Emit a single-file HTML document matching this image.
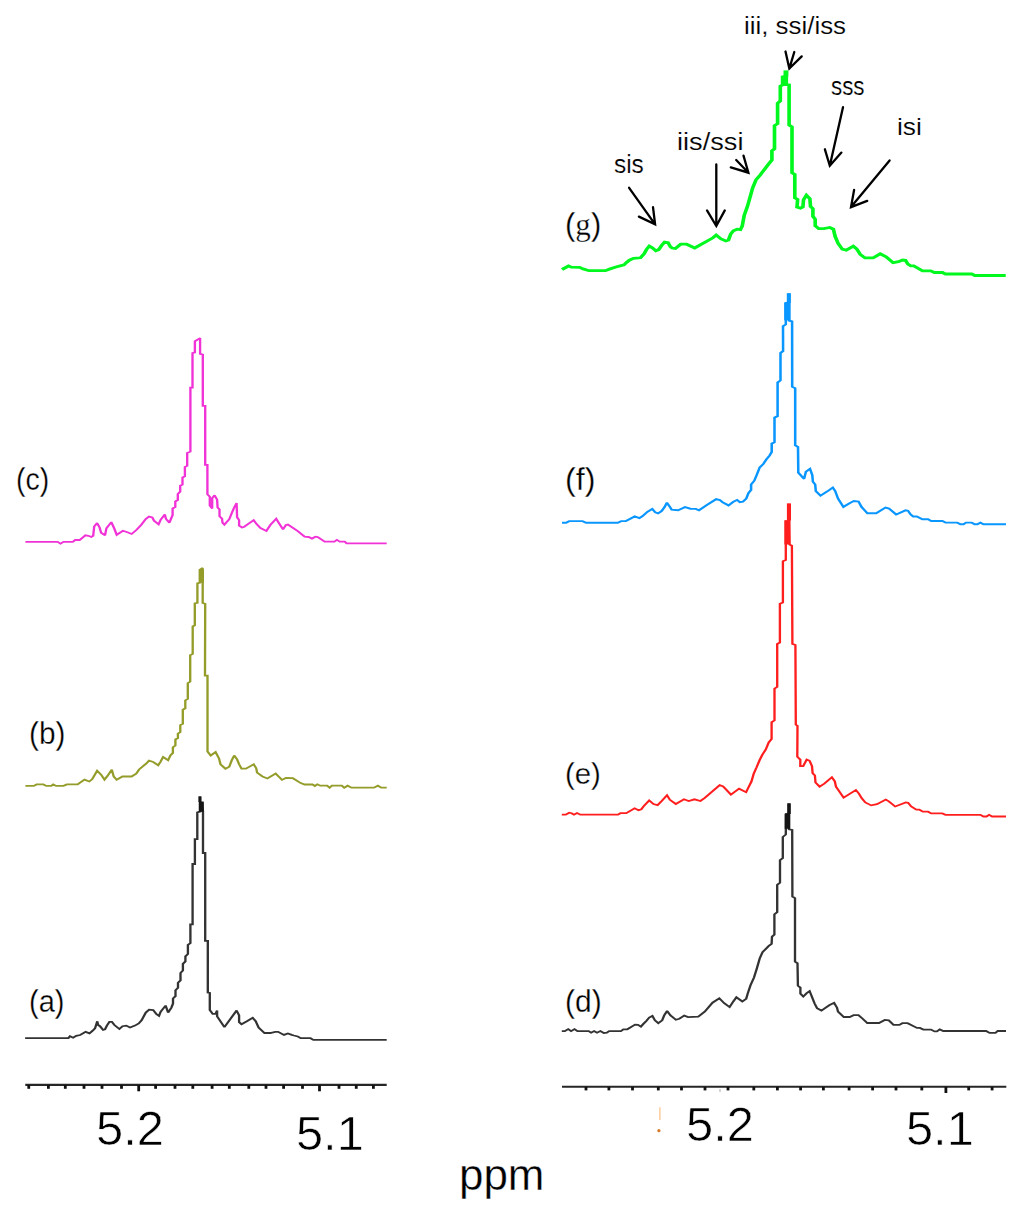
<!DOCTYPE html>
<html><head><meta charset="utf-8"><style>
html,body{margin:0;padding:0;background:#fff;}
body{width:1024px;height:1211px;position:relative;overflow:hidden;font-family:"Liberation Sans",sans-serif;color:#000;}
svg{position:absolute;left:0;top:0;}
.t{position:absolute;white-space:nowrap;line-height:1;transform-origin:0 0;}
</style></head><body>
<svg width="1024" height="1211" viewBox="0 0 1024 1211">
<g transform="scale(1.3,1)"><polyline points="19.31,1038.1 52.62,1038.1 53.85,1036.2 56.23,1037.7 58.65,1035.8 61.69,1035.0 65.85,1031.9 68.85,1033.4 71.31,1030.7 73.08,1028.4 74.85,1021.3 75.46,1025.0 76.92,1026.2 79.31,1030.0 80.77,1029.4 82.23,1025.6 84.15,1021.9 86.08,1021.9 88.00,1025.0 91.85,1029.0 94.23,1026.2 97.12,1025.6 100.00,1027.5 103.85,1025.6 106.73,1023.4 108.92,1020.3 112.15,1012.6 114.69,1009.7 117.85,1010.1 120.38,1014.2 122.31,1015.9 123.54,1011.8 127.38,1005.6 129.31,1012.6 131.85,1007.6 133.08,1003.5 133.08,998.5 135.00,996.1 135.00,990.3 136.92,987.8 136.92,982.8 138.85,980.4 138.85,973.0 140.69,970.5 140.69,963.9 142.62,961.4 142.62,956.4 144.54,954.0 144.54,944.9 146.46,943.2 146.46,924.3 148.15,924.3 148.15,864.0 149.92,864.0 149.92,839.2 151.77,839.2 151.77,812.3 153.92,811.5 153.92,796.8 153.92,803.0 155.69,803.0 156.15,811.8 156.15,853.0 157.85,853.0 157.85,940.8 159.85,940.8 159.85,992.5 161.38,992.9 161.38,1010.0 163.62,1013.9 165.85,1013.9 167.00,1010.5 167.00,1016.4 172.62,1027.1 182.00,1010.5 183.92,1015.4 183.92,1022.2 185.77,1024.2 189.92,1021.2 194.38,1017.8 196.69,1021.2 198.92,1027.6 203.46,1033.0 207.92,1033.0 211.69,1031.8 213.92,1031.8 218.46,1034.9 221.46,1033.5 224.46,1034.9 226.08,1035.5 229.08,1036.5 231.31,1038.2 238.85,1038.2 241.08,1039.9 297.46,1039.9" fill="none" stroke="#333333" stroke-width="1.8" stroke-linejoin="miter" stroke-miterlimit="2"/></g><rect x="198.8" y="801.5" width="4.90" height="10.30" fill="#151515"/><rect x="198.4" y="796.3" width="3.00" height="5.70" fill="#151515"/>
<g transform="scale(1.3,1)"><polyline points="19.54,785.9 25.92,785.9 28.15,784.4 33.38,784.4 35.69,785.9 39.42,785.9 40.92,784.4 43.15,785.9 48.85,785.9 51.46,784.4 59.69,784.4 65.00,779.6 68.69,781.5 71.00,779.1 74.69,770.8 77.77,774.7 80.38,779.6 82.62,776.1 86.00,769.8 87.50,776.6 89.77,779.8 94.23,776.5 101.23,776.5 104.77,773.6 107.00,769.5 112.38,763.7 114.62,760.7 117.85,762.0 121.69,765.3 123.54,761.6 125.46,757.0 129.31,760.3 131.08,755.5 133.00,752.9 133.00,747.4 134.92,745.4 134.92,739.5 136.85,738.0 136.85,733.6 138.69,732.1 138.69,725.1 140.62,723.7 140.62,709.8 142.54,708.3 142.54,700.4 144.46,698.9 144.46,683.1 146.31,681.6 146.31,655.3 148.23,653.9 148.23,626.5 149.85,625.3 149.85,603.5 151.85,602.8 151.85,583.4 153.85,582.7 153.85,569.6 155.85,568.0 155.92,583.0 155.92,603.0 157.85,603.8 157.69,675.7 159.62,675.7 159.62,751.6 162.08,755.5 165.85,752.1 168.46,758.4 169.62,764.3 173.38,768.7 176.38,766.7 178.23,760.4 180.15,755.5 182.38,759.4 183.92,764.3 185.77,768.7 189.15,768.7 195.15,764.3 197.08,768.2 197.77,772.6 201.92,776.5 205.69,778.5 212.08,773.6 213.92,776.0 216.92,779.9 219.92,778.0 225.31,778.2 231.31,783.1 234.31,784.5 240.38,784.5 242.23,786.0 244.08,784.3 246.38,785.7 251.62,785.7 253.54,787.7 255.38,785.7 262.92,785.7 264.77,787.7 267.38,785.7 270.38,787.7 287.69,787.7 290.69,785.7 293.31,787.7 297.46,787.7" fill="none" stroke="#949c2a" stroke-width="1.8" stroke-linejoin="miter" stroke-miterlimit="2"/></g><rect x="198.7" y="569.2" width="5.30" height="13.50" fill="#949c2a"/>
<g transform="scale(1.3,1)"><polyline points="19.54,541.9 44.31,541.9 46.54,543.6 48.85,541.9 55.92,541.9 57.85,540.0 61.23,540.0 65.69,535.3 68.00,535.8 70.23,537.0 71.69,535.8 72.46,526.5 74.69,523.1 76.62,527.5 77.77,532.8 80.77,535.3 81.85,528.4 85.62,522.1 87.85,528.4 89.77,534.8 91.62,533.2 94.54,530.7 98.00,532.3 101.23,534.0 105.08,529.8 108.54,524.9 112.08,519.0 114.62,516.6 117.15,517.4 118.46,520.7 122.00,524.4 123.54,519.9 126.77,514.5 127.69,519.0 130.31,522.6 132.77,515.0 132.77,508.5 134.85,507.0 134.85,501.5 136.77,500.0 136.77,494.0 138.62,491.6 138.62,485.7 140.38,484.5 140.38,477.5 142.23,476.3 142.23,467.0 144.00,465.8 144.00,453.0 146.46,451.5 146.46,387.6 148.08,387.6 148.08,353.2 149.92,352.4 149.92,341.2 153.92,338.1 153.92,353.8 156.00,354.6 156.00,405.8 157.85,405.8 157.85,464.8 159.54,464.8 159.54,494.3 161.38,496.7 161.38,505.5 163.23,508.4 163.23,498.0 165.08,495.3 167.00,499.6 167.38,507.5 168.85,509.4 168.85,516.3 170.77,518.7 171.15,522.6 172.62,524.6 176.38,519.2 178.23,513.3 180.15,507.5 182.00,503.1 182.38,517.2 183.92,520.2 183.92,525.5 186.15,527.5 187.62,527.0 195.15,520.2 197.38,524.1 200.38,528.0 204.92,530.9 207.92,525.0 212.46,518.7 214.31,522.6 217.69,529.4 219.92,525.0 221.46,524.6 229.08,531.1 234.31,536.7 237.38,537.0 240.00,538.6 242.62,536.7 244.46,537.0 249.77,541.6 257.23,541.6 259.15,539.9 261.38,541.6 265.15,541.6 266.62,543.3 297.46,543.3" fill="none" stroke="#f032d7" stroke-width="1.8" stroke-linejoin="miter" stroke-miterlimit="2"/></g>
<g transform="scale(1.3,1)"><polyline points="432.15,1031.2 434.46,1031.2 437.08,1029.1 439.31,1031.1 441.92,1029.1 444.23,1031.1 452.85,1031.1 454.69,1032.7 457.00,1031.1 459.23,1032.7 461.85,1031.1 464.46,1033.0 466.77,1032.7 468.62,1031.1 477.62,1031.1 479.54,1029.3 482.54,1029.3 488.54,1024.6 490.77,1024.9 493.00,1026.6 494.92,1023.9 497.15,1021.0 499.38,1017.6 501.85,1015.9 503.77,1020.3 506.38,1023.2 509.38,1020.3 510.92,1015.4 513.15,1011.0 515.77,1015.4 519.92,1019.8 522.54,1018.8 526.31,1015.6 529.31,1017.1 537.15,1016.6 542.08,1011.7 548.08,1002.7 553.31,998.3 557.08,1003.2 561.23,1007.1 564.23,1001.2 566.46,997.3 571.00,1001.5 574.00,998.8 575.15,993.6 577.31,985.2 580.00,977.5 582.23,968.3 584.38,958.5 586.54,952.2 591.38,945.9 593.54,943.8 593.85,936.7 595.69,934.6 595.69,914.3 597.85,912.2 597.85,884.8 600.00,882.7 600.00,860.2 602.15,858.1 602.15,837.0 604.46,834.5 604.62,814.0 606.92,813.5 606.92,803.6 606.92,829.3 609.38,830.0 609.54,896.5 611.54,898.1 611.54,961.6 613.46,963.2 613.77,985.7 615.69,987.7 615.69,993.6 617.92,996.5 620.54,993.1 622.77,991.1 624.31,996.0 626.54,1003.3 628.46,1008.2 631.85,1010.6 637.85,1005.3 641.62,1002.8 643.85,1007.7 644.62,1011.6 649.08,1017.0 653.62,1017.0 656.62,1015.2 660.38,1015.2 663.38,1018.5 667.15,1023.0 676.15,1023.0 680.62,1019.9 683.69,1020.4 687.31,1024.9 691.85,1024.9 694.08,1023.2 698.15,1023.2 705.38,1027.9 707.62,1027.9 710.31,1029.6 716.15,1029.6 718.85,1031.4 720.69,1031.4 722.92,1029.4 725.62,1031.0 758.54,1031.0 761.23,1032.9 765.77,1032.9 767.54,1031.0 773.85,1031.0" fill="none" stroke="#333333" stroke-width="1.8" stroke-linejoin="miter" stroke-miterlimit="2"/></g><rect x="784.7" y="813.9" width="5.50" height="14.90" fill="#151515"/><rect x="787.2" y="803.3" width="3.60" height="10.70" fill="#151515"/>
<g transform="scale(1.3,1)"><polyline points="432.15,814.7 435.15,814.7 437.85,812.7 439.69,813.2 441.54,814.7 443.85,813.0 446.46,814.7 475.38,814.7 477.23,813.2 481.77,813.2 488.15,808.3 491.15,810.3 493.38,809.3 495.31,805.9 499.38,800.5 502.69,804.0 505.85,805.1 509.00,801.0 513.08,795.2 515.31,799.8 519.85,804.0 526.15,799.3 529.77,801.0 534.23,799.3 538.77,801.0 541.92,798.1 547.77,791.6 553.62,785.2 556.31,786.4 562.23,794.6 568.54,788.7 573.92,792.2 575.69,787.5 578.00,781.7 579.77,773.7 582.00,767.3 584.23,760.4 586.46,754.6 589.08,749.4 591.31,742.4 593.54,739.0 593.54,722.2 595.77,720.4 595.77,688.6 597.85,686.9 597.85,644.0 599.92,642.5 599.92,603.8 602.23,602.5 602.23,561.3 604.46,560.0 604.46,521.5 606.92,520.8 606.92,503.8 607.38,544.6 609.15,545.8 609.54,643.9 611.85,645.0 612.15,724.6 613.46,725.8 613.31,756.7 615.62,759.6 615.62,766.1 617.85,766.1 620.54,759.6 622.77,760.8 624.62,766.1 625.08,773.1 626.85,775.5 627.31,782.5 630.46,786.6 634.08,783.7 639.92,777.2 642.15,781.3 643.08,786.6 644.92,790.1 648.92,797.7 653.92,793.6 658.38,790.1 660.69,793.6 662.92,798.3 665.62,802.4 670.15,805.4 674.62,804.2 681.38,799.5 683.69,801.3 688.62,806.5 696.69,802.4 698.54,802.8 700.92,806.4 704.85,809.7 707.23,809.7 709.92,811.7 713.92,811.7 716.31,813.4 724.92,813.4 727.31,814.8 754.15,814.8 756.54,816.5 758.85,816.5 760.85,814.8 763.23,816.5 773.85,816.5" fill="none" stroke="#ff1e1e" stroke-width="1.8" stroke-linejoin="miter" stroke-miterlimit="2"/></g><rect x="784.4" y="520.2" width="5.80" height="24.30" fill="#ff1e1e"/><rect x="786.9" y="503.4" width="4.10" height="17.10" fill="#ff1e1e"/>
<g transform="scale(1.3,1)"><polyline points="432.31,522.8 435.46,522.8 437.77,521.1 448.08,521.1 450.85,522.8 475.15,522.8 477.85,521.1 481.46,521.1 488.23,516.4 491.85,518.1 494.08,516.4 498.15,511.7 501.77,509.0 504.00,512.3 506.23,513.4 508.92,511.1 511.23,507.0 513.00,502.7 515.69,507.6 516.62,509.7 521.62,510.3 526.92,507.1 531.08,508.7 535.23,508.9 537.69,510.3 544.31,504.6 550.92,499.2 553.85,500.1 555.85,502.2 560.38,505.4 564.15,501.7 567.00,499.9 569.08,502.2 571.54,501.7 574.08,498.5 575.69,493.1 577.77,489.9 577.77,484.5 580.23,480.7 582.23,474.5 584.38,467.5 587.15,464.0 589.31,459.7 592.00,455.5 593.62,452.0 593.62,443.6 595.77,442.2 595.77,417.6 598.15,416.2 598.15,382.5 600.38,380.4 600.38,353.0 602.38,351.0 602.31,326.3 604.46,324.4 604.46,303.0 606.85,302.5 606.85,293.5 606.85,320.5 609.31,321.5 609.38,386.7 611.69,388.3 611.69,445.3 613.85,447.0 614.08,472.6 617.62,477.6 618.54,478.8 619.92,471.7 623.08,468.8 624.85,475.2 625.31,481.7 627.08,484.6 627.54,491.1 631.15,495.7 636.15,491.6 640.62,487.5 642.46,491.1 644.69,498.7 648.77,506.9 654.15,502.8 656.85,501.0 660.46,501.6 662.69,506.9 667.23,513.3 674.00,513.3 681.15,507.5 683.92,508.6 689.31,514.5 696.54,510.4 698.54,510.8 700.46,514.4 702.46,516.4 705.23,516.4 709.54,519.3 713.92,519.3 716.31,521.0 724.92,521.0 727.31,522.6 736.38,522.6 738.77,524.3 741.15,524.3 743.08,522.6 747.46,522.6 749.77,524.3 751.77,524.3 754.15,522.6 756.54,524.3 773.85,524.3" fill="none" stroke="#0a96ff" stroke-width="1.95" stroke-linejoin="miter" stroke-miterlimit="2"/></g><rect x="784.2" y="302.6" width="6.40" height="17.70" fill="#0a96ff"/><rect x="786.8" y="293.2" width="4.10" height="9.80" fill="#0a96ff"/>
<g transform="scale(1.3,1)"><polyline points="432.31,269.5 437.31,266.0 439.54,267.2 445.85,267.4 448.54,268.9 453.08,270.7 465.69,270.7 469.31,268.9 475.62,266.3 480.08,264.8 481.92,262.5 484.15,260.2 487.31,258.4 492.69,257.8 495.46,253.7 497.23,249.6 499.46,246.1 501.77,247.9 504.46,250.8 506.69,249.6 508.92,245.5 511.23,242.0 513.92,242.6 515.69,246.7 517.00,248.0 519.54,248.5 523.62,244.2 528.15,244.2 534.38,248.0 548.46,237.8 550.92,235.1 554.62,238.9 558.38,241.0 560.38,240.0 562.08,234.0 564.15,230.8 567.00,229.2 569.54,229.7 570.92,226.1 572.46,215.5 575.00,206.2 577.00,197.0 579.00,187.8 581.54,179.8 584.62,175.2 588.15,169.3 591.23,164.0 593.77,160.0 593.77,150.8 595.77,148.8 595.77,125.7 598.15,123.7 598.15,103.2 600.23,100.9 600.23,86.2 602.00,85.0 602.00,77.0 604.62,76.5 604.62,71.2 604.62,84.5 607.00,85.0 607.00,125.1 609.23,126.9 609.23,172.8 611.38,174.5 611.38,197.8 613.54,199.5 613.08,207.0 615.77,208.1 617.62,207.0 618.08,199.9 620.31,195.2 623.00,198.8 623.46,206.4 625.31,208.7 625.31,216.3 627.08,219.3 627.08,225.7 629.77,228.6 633.85,228.6 638.31,227.5 641.08,229.2 642.38,236.3 644.62,243.3 647.85,249.1 651.00,250.1 656.38,246.2 659.08,249.1 661.77,254.4 665.38,257.9 671.69,257.9 677.08,253.8 681.62,256.8 687.00,262.6 691.15,261.7 694.31,260.0 696.54,260.3 698.38,264.1 700.62,265.8 702.92,265.8 709.62,270.9 715.92,270.9 718.69,272.5 725.00,272.5 727.23,274.0 747.54,274.0 749.77,275.5 773.62,275.5" fill="none" stroke="#00f81e" stroke-width="2.8" stroke-linejoin="miter" stroke-miterlimit="2"/></g><rect x="781" y="76.4" width="7.10" height="8.70" fill="#00f81e"/><rect x="783.5" y="70.4" width="4.90" height="6.20" fill="#00f81e"/>
<line x1="25.3" y1="1084.9" x2="386.7" y2="1084.9" stroke="#262626" stroke-width="2.1"/>
<line x1="28.75" y1="1085" x2="28.75" y2="1088.8" stroke="#111" stroke-width="2.8"/>
<line x1="48.4" y1="1085" x2="48.4" y2="1088.8" stroke="#111" stroke-width="2.8"/>
<line x1="65.3" y1="1085" x2="65.3" y2="1088.8" stroke="#111" stroke-width="2.8"/>
<line x1="84" y1="1085" x2="84" y2="1088.8" stroke="#111" stroke-width="2.8"/>
<line x1="102" y1="1085" x2="102" y2="1088.8" stroke="#111" stroke-width="2.8"/>
<line x1="121.5" y1="1085" x2="121.5" y2="1088.8" stroke="#111" stroke-width="2.8"/>
<line x1="155.6" y1="1085" x2="155.6" y2="1088.8" stroke="#111" stroke-width="2.8"/>
<line x1="175" y1="1085" x2="175" y2="1088.8" stroke="#111" stroke-width="2.8"/>
<line x1="192.8" y1="1085" x2="192.8" y2="1088.8" stroke="#111" stroke-width="2.8"/>
<line x1="212.1" y1="1085" x2="212.1" y2="1088.8" stroke="#111" stroke-width="2.8"/>
<line x1="229.3" y1="1085" x2="229.3" y2="1088.8" stroke="#111" stroke-width="2.8"/>
<line x1="248.8" y1="1085" x2="248.8" y2="1088.8" stroke="#111" stroke-width="2.8"/>
<line x1="266" y1="1085" x2="266" y2="1088.8" stroke="#111" stroke-width="2.8"/>
<line x1="283.6" y1="1085" x2="283.6" y2="1088.8" stroke="#111" stroke-width="2.8"/>
<line x1="302.5" y1="1085" x2="302.5" y2="1088.8" stroke="#111" stroke-width="2.8"/>
<line x1="339" y1="1085" x2="339" y2="1088.8" stroke="#111" stroke-width="2.8"/>
<line x1="356.25" y1="1085" x2="356.25" y2="1088.8" stroke="#111" stroke-width="2.8"/>
<line x1="373.4" y1="1085" x2="373.4" y2="1088.8" stroke="#111" stroke-width="2.8"/>
<line x1="138.7" y1="1085" x2="138.7" y2="1091.3" stroke="#111" stroke-width="2.8"/>
<line x1="319.5" y1="1085" x2="319.5" y2="1091.3" stroke="#111" stroke-width="2.8"/>
<line x1="562" y1="1086.8" x2="1006.3" y2="1086.8" stroke="#262626" stroke-width="2.1"/>
<line x1="586" y1="1087" x2="586" y2="1090.4" stroke="#111" stroke-width="2.8"/>
<line x1="608.9" y1="1087" x2="608.9" y2="1090.4" stroke="#111" stroke-width="2.8"/>
<line x1="632.5" y1="1087" x2="632.5" y2="1090.4" stroke="#111" stroke-width="2.8"/>
<line x1="658.3" y1="1087" x2="658.3" y2="1090.4" stroke="#111" stroke-width="2.8"/>
<line x1="681.5" y1="1087" x2="681.5" y2="1090.4" stroke="#111" stroke-width="2.8"/>
<line x1="705" y1="1087" x2="705" y2="1090.4" stroke="#111" stroke-width="2.8"/>
<line x1="728" y1="1087" x2="728" y2="1090.4" stroke="#111" stroke-width="2.8"/>
<line x1="753.8" y1="1087" x2="753.8" y2="1090.4" stroke="#111" stroke-width="2.8"/>
<line x1="777.4" y1="1087" x2="777.4" y2="1090.4" stroke="#111" stroke-width="2.8"/>
<line x1="800.6" y1="1087" x2="800.6" y2="1090.4" stroke="#111" stroke-width="2.8"/>
<line x1="823.4" y1="1087" x2="823.4" y2="1090.4" stroke="#111" stroke-width="2.8"/>
<line x1="849.1" y1="1087" x2="849.1" y2="1090.4" stroke="#111" stroke-width="2.8"/>
<line x1="872.6" y1="1087" x2="872.6" y2="1090.4" stroke="#111" stroke-width="2.8"/>
<line x1="896" y1="1087" x2="896" y2="1090.4" stroke="#111" stroke-width="2.8"/>
<line x1="921.8" y1="1087" x2="921.8" y2="1090.4" stroke="#111" stroke-width="2.8"/>
<line x1="968.7" y1="1087" x2="968.7" y2="1090.4" stroke="#111" stroke-width="2.8"/>
<line x1="992.1" y1="1087" x2="992.1" y2="1090.4" stroke="#111" stroke-width="2.8"/>
<line x1="945.9" y1="1087" x2="945.9" y2="1093" stroke="#111" stroke-width="2.8"/>
<line x1="720" y1="1089" x2="720" y2="1092" stroke="#bbb" stroke-width="1.2"/>
<line x1="659.9" y1="1107.3" x2="659.9" y2="1120" stroke="#ffb878" stroke-width="1.1"/>
<circle cx="658.9" cy="1130.7" r="1.6" fill="#d87a28"/>
<path d="M629.1,187.8 L655.1,224.3 M653,207.1 L655.1,224.3 L638.9,216.6" fill="none" stroke="#000" stroke-width="2.3" stroke-linecap="round" stroke-linejoin="miter"/>
<path d="M716.3,164.4 L716.3,226 M707,210.4 L716.3,226 L724.8,210.4" fill="none" stroke="#000" stroke-width="2.3" stroke-linecap="round" stroke-linejoin="miter"/>
<path d="M736.2,160 L748.4,172.7 M743.5,155.6 L748.4,172.7 L730.8,167.4" fill="none" stroke="#000" stroke-width="2.3" stroke-linecap="round" stroke-linejoin="miter"/>
<path d="M794.3,52 L789.3,68.6 M785.5,51.5 L789.3,68.6 L801.7,56.4" fill="none" stroke="#000" stroke-width="2.3" stroke-linecap="round" stroke-linejoin="miter"/>
<path d="M843,107.2 L829.8,165.8 M824.9,149.3 L829.8,165.8 L841.4,152.6" fill="none" stroke="#000" stroke-width="2.3" stroke-linecap="round" stroke-linejoin="miter"/>
<path d="M889.6,160.5 L851,207.1 M854.1,190 L851,207.1 L867.2,200.9" fill="none" stroke="#000" stroke-width="2.3" stroke-linecap="round" stroke-linejoin="miter"/>
</svg>
<div class="t" style="left:28.87px;top:986.23px;font-size:100px;transform:scale(0.2899,0.3054);-webkit-text-stroke:1.0px #fff">(a)</div>
<div class="t" style="left:28.81px;top:718.33px;font-size:100px;transform:scale(0.2982,0.3054);-webkit-text-stroke:1.0px #fff">(b)</div>
<div class="t" style="left:16.41px;top:463.77px;font-size:100px;transform:scale(0.2845,0.3098);-webkit-text-stroke:1.0px #fff">(c)</div>
<div class="t" style="left:565.20px;top:986.03px;font-size:100px;transform:scale(0.3000,0.3054);-webkit-text-stroke:1.0px #fff">(d)</div>
<div class="t" style="left:565.14px;top:758.39px;font-size:100px;transform:scale(0.2936,0.3011);-webkit-text-stroke:1.0px #fff">(e)</div>
<div class="t" style="left:564.94px;top:464.43px;font-size:100px;transform:scale(0.3235,0.3054);-webkit-text-stroke:1.0px #fff">(f)</div>
<div class="t" style="left:565.03px;top:208.87px;font-size:100px;transform:scale(0.3107,0.3098);-webkit-text-stroke:1.0px #fff">(<span style="font-family:Liberation Serif">g</span>)</div>
<div class="t" style="left:95.76px;top:1103.97px;font-size:100px;transform:scale(0.4883,0.4768);-webkit-text-stroke:1.3px #fff">5.2</div>
<div class="t" style="left:296.16px;top:1108.80px;font-size:100px;transform:scale(0.4876,0.4824);-webkit-text-stroke:1.3px #fff">5.1</div>
<div class="t" style="left:686.16px;top:1100.59px;font-size:100px;transform:scale(0.4883,0.4754);-webkit-text-stroke:1.3px #fff">5.2</div>
<div class="t" style="left:906.16px;top:1104.20px;font-size:100px;transform:scale(0.4876,0.4824);-webkit-text-stroke:1.3px #fff">5.1</div>
<div class="t" style="left:458.62px;top:1153.48px;font-size:100px;transform:scale(0.4394,0.4411);-webkit-text-stroke:0.8px #fff">ppm</div>
<div class="t" style="left:744.19px;top:12.77px;font-size:100px;transform:scale(0.2587,0.2438);-webkit-text-stroke:0.6px #fff">iii, ssi/iss</div>
<div class="t" style="left:677.10px;top:128.57px;font-size:100px;transform:scale(0.2717,0.2438);-webkit-text-stroke:0.6px #fff">iis/ssi</div>
<div class="t" style="left:613.72px;top:152.21px;font-size:100px;transform:scale(0.2439,0.2493);-webkit-text-stroke:0.6px #fff">sis</div>
<div class="t" style="left:830.71px;top:74.03px;font-size:100px;transform:scale(0.2232,0.2491);-webkit-text-stroke:0.6px #fff">sss</div>
<div class="t" style="left:896.55px;top:113.64px;font-size:100px;transform:scale(0.2638,0.2466);-webkit-text-stroke:0.6px #fff">isi</div>
</body></html>
